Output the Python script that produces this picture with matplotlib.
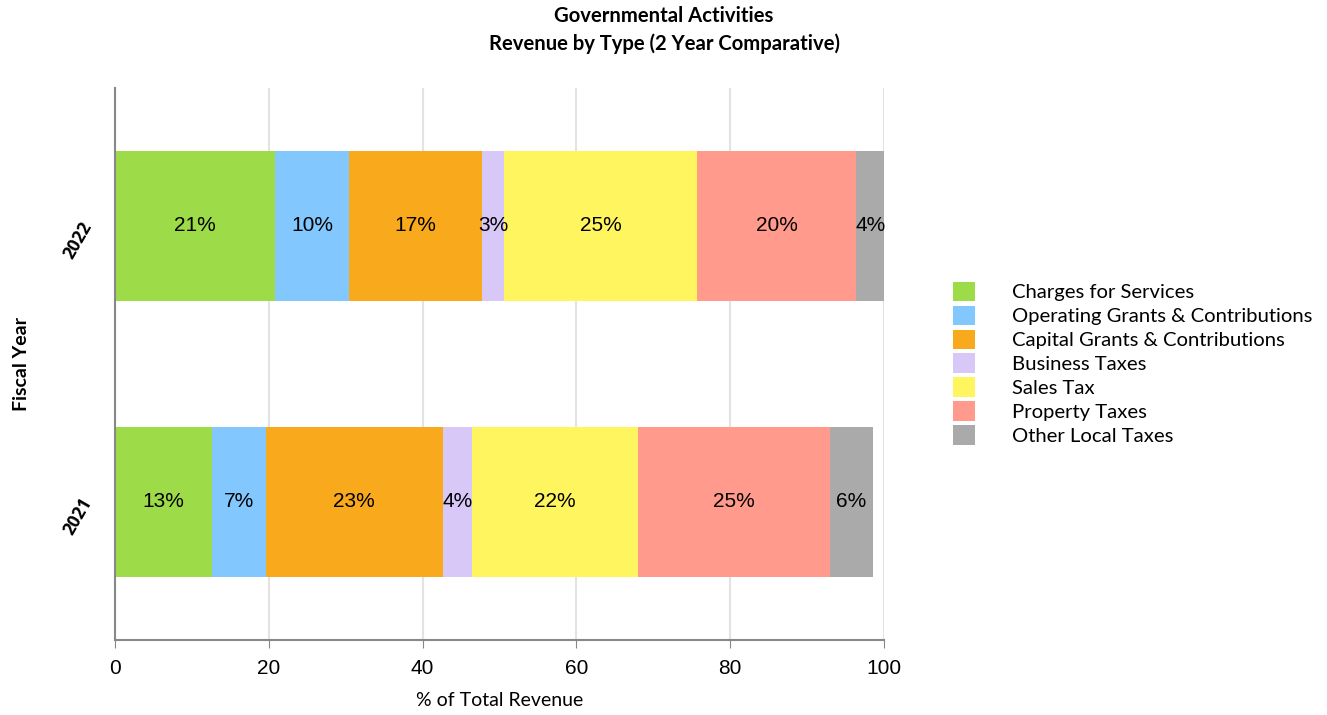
import matplotlib
matplotlib.use("Agg")
import matplotlib.pyplot as plt
from matplotlib.patches import Patch

years = ["2021", "2022"]
categories = ["Charges for Services", "Operating Grants & Contributions",
              "Capital Grants & Contributions", "Business Taxes", "Sales Tax",
              "Property Taxes", "Other Local Taxes"]
# percent of total revenue, per category: [2021, 2022]
charges = [12.6, 20.8]
operating = [7.0, 9.6]
capital = [23.0, 17.3]
business = [3.8, 2.9]
sales = [21.6, 25.1]
property_tax = [25.0, 20.7]
other = [5.5, 3.6]
labels_2021 = ["13%", "7%", "23%", "4%", "22%", "25%", "6%"]
labels_2022 = ["21%", "10%", "17%", "3%", "25%", "20%", "4%"]

series = [charges, operating, capital, business, sales, property_tax, other]
colors = ["#9ddb48", "#82c8ff", "#f9a91c", "#d8c8f8", "#fff55e", "#ff9a8c", "#aaaaaa"]

fig = plt.figure(figsize=(13.27, 7.15), dpi=100)
ax = fig.add_axes([0.0867, 0.105, 0.5795, 0.772])

ypos = [0, 1]
left = [0, 0]
bar_labels = [labels_2021, labels_2022]
for k, (vals, col) in enumerate(zip(series, colors)):
    ax.barh(ypos, vals, left=left, height=0.545, color=col, zorder=2)
    for i in range(2):
        ax.text(left[i] + vals[i] / 2, ypos[i], bar_labels[i][k], ha="center",
                va="center", fontsize=15, family="Liberation Sans", zorder=3)
    left = [left[i] + vals[i] for i in range(2)]

ax.set_xlim(0, 100)
ax.set_ylim(-0.5, 1.5)
ax.set_xticks([0, 20, 40, 60, 80, 100])
ax.grid(axis="x", color="#e3e3e3", linewidth=1.5, zorder=0)
ax.set_yticks(ypos)
ax.set_yticklabels(years, rotation=60, fontsize=12.5, fontweight="bold", family="Open Sans")
for s in ["top", "right"]:
    ax.spines[s].set_visible(False)
ax.spines["left"].set_color("#888888")
ax.spines["bottom"].set_color("#888888")
ax.spines["left"].set_linewidth(1.5)
ax.spines["bottom"].set_linewidth(1.5)
ax.tick_params(axis="x", length=6, color="#888888", labelsize=15, pad=8)
ax.tick_params(axis="y", length=0, pad=14)
for t in ax.get_xticklabels():
    t.set_family("Liberation Sans")

ax.set_xlabel("% of Total Revenue", fontsize=14, family="Lato", labelpad=10)
ax.set_ylabel("Fiscal Year", fontsize=14, fontweight="bold", family="Lato")
ax.yaxis.set_label_coords(-0.11, 0.5)

fig.text(0.5004, 0.958, "Governmental Activities\nRevenue by Type (2 Year Comparative)",
         ha="center", va="center", fontsize=14.6, fontweight="bold", family="Lato",
         linespacing=1.4)

handles = [Patch(facecolor=c, label=n) for c, n in zip(colors, categories)]
fig.legend(handles=handles, loc="center left", bbox_to_anchor=(0.718, 0.492),
           frameon=False, prop={"family": "Lato", "size": 14.6}, borderpad=0,
           borderaxespad=0, handlelength=1.1, handleheight=1.1,
           handletextpad=1.8, labelspacing=0.21)

fig.savefig("out.png", dpi=100)
